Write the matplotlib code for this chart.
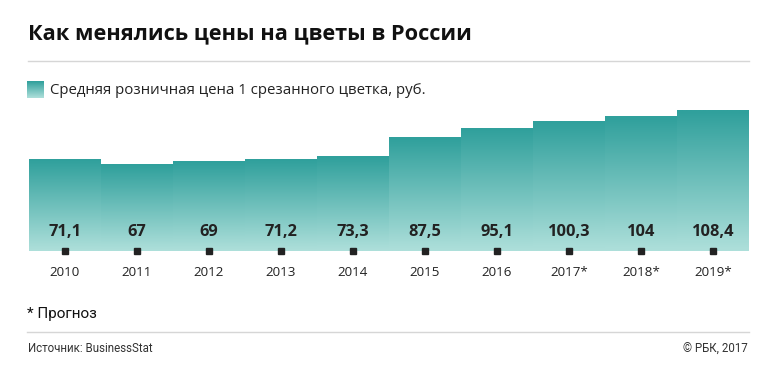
import numpy as np
import matplotlib
matplotlib.use("Agg")
import matplotlib.pyplot as plt
from matplotlib.colors import LinearSegmentedColormap
from matplotlib.lines import Line2D

years = ["2010", "2011", "2012", "2013", "2014", "2015", "2016", "2017*", "2018*", "2019*"]
values = [71.1, 67, 69, 71.2, 73.3, 87.5, 95.1, 100.3, 104, 108.4]
value_labels = ["71,1", "67", "69", "71,2", "73,3", "87,5", "95,1", "100,3", "104", "108,4"]

title = "Как менялись цены на цветы в России"
legend_label = "Средняя розничная цена 1 срезанного цветка, руб."
note = "* Прогноз"
source = "Источник: BusinessStat"
copyright_text = "© РБК, 2017"

W, H = 768, 367
fig = plt.figure(figsize=(W / 100, H / 100), dpi=100)
fig.patch.set_facecolor("white")

def fx(px):
    return px / W

def fy(py):
    return 1 - py / H

TEXT = "#222222"
TOP = "#30A09C"
BOT = "#ADDFDA"
cmap = LinearSegmentedColormap.from_list("g", [BOT, TOP])

# title
fig.text(fx(28), fy(34), title, fontsize=15.7, fontweight="bold", family="Open Sans",
         color="#111111", va="center", ha="left")
fig.add_artist(Line2D([fx(28), fx(749)], [fy(61), fy(61)], color="#d6d6d6", lw=1))

# legend
grad = np.linspace(1, 0, 50).reshape(-1, 1)
lax = fig.add_axes([fx(27), fy(98), fx(17), (17) / H])
lax.imshow(grad, cmap=cmap, aspect="auto", extent=(0, 1, 0, 1), vmin=0, vmax=1)
lax.set_axis_off()
fig.text(fx(50), fy(90), legend_label, fontsize=10.8, family="Open Sans",
         color=TEXT, va="center", ha="left")

# main axes
base_px, top_px = 251, 100
scale = 1.292
ax = fig.add_axes([fx(29), fy(base_px), fx(749 - 29), (base_px - top_px) / H])

for i, v in enumerate(values):
    ax.imshow(grad, cmap=cmap, aspect="auto", extent=(i, i + 1, 0, v),
              vmin=0, vmax=1, interpolation="bilinear", zorder=1)
ax.set_xlim(0, len(values))
ax.set_ylim(0, (base_px - top_px) / scale)
ax.set_axis_off()

x = np.arange(len(values)) + 0.5
ax.plot(x, np.zeros(len(values)), ls="none", marker="s", ms=4.3, color="#222222",
        clip_on=False, zorder=3)

for xi, lab, yr in zip(x, value_labels, years):
    ax.annotate(lab, xy=(xi, 0), xytext=(0, 19 * 0.72), textcoords="offset points",
                ha="center", va="center", fontsize=11.8, fontweight="bold",
                family="Open Sans", color=TEXT, zorder=4)
    ax.annotate(yr, xy=(xi, 0), xytext=(0, -21 * 0.72), textcoords="offset points",
                ha="center", va="center", fontsize=9.6, family="Open Sans",
                color=TEXT, annotation_clip=False)

# footer
fig.text(fx(27), fy(314), note, fontsize=11, family="Roboto", color="#111111",
         va="center", ha="left")
fig.add_artist(Line2D([fx(27), fx(749)], [fy(332), fy(332)], color="#d6d6d6", lw=1))
fig.text(fx(28), fy(349), source, fontsize=8.3, family="Roboto", color="#333333",
         va="center", ha="left")
fig.text(fx(748), fy(349), copyright_text, fontsize=8.3, family="Roboto", color="#333333",
         va="center", ha="right")

fig.savefig("out.png", dpi=100, facecolor="white")
